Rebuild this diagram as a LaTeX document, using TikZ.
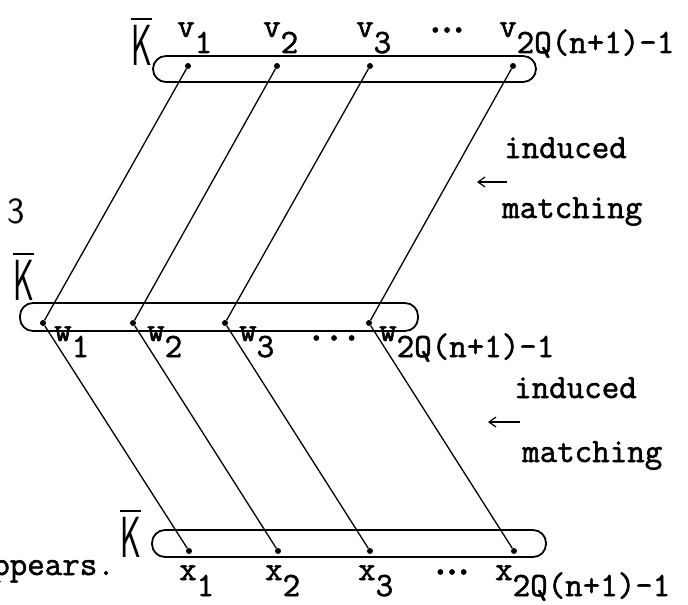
\documentclass[tikz,border=0pt]{standalone}
\usepackage{fontspec}
\usepackage{graphicx}
\setmonofont{Latin Modern Mono}[FakeBold=1.6]
\usetikzlibrary{arrows.meta,positioning}

\newcommand{\Kbar}{\scalebox{0.55}[1]{\vbox{\hrule height 2pt\kern 5pt\hbox{\sffamily K}}}}

\begin{document}
\begin{tikzpicture}[
  x=1pt, y=-1pt,
  clique/.style={
    rectangle,
    draw=black,
    line width=1.8pt,
    rounded corners=13pt,
    inner sep=0pt
  },
  vertex/.style={circle, fill=black, inner sep=0pt, minimum size=6pt},
  lbl/.style={font=\fontsize{34}{40}\selectfont\ttfamily, inner sep=0pt, anchor=base west},
  ellip/.style={font=\fontsize{44}{50}\selectfont\ttfamily, inner sep=0pt, anchor=center},
  cbar/.style={font=\fontsize{58}{60}\selectfont, inner sep=0pt, anchor=base west},
  match/.style={line width=1.3pt, draw=black},
  ptr/.style={line width=1.2pt, -{Straight Barb[length=7pt,width=10pt]}}
]
\useasboundingbox (0,0) rectangle (688,605);

% the three sets
\node[clique, minimum width=383pt, minimum height=26pt] (topset) at (344.5,69) {};
\node[clique, minimum width=398pt, minimum height=28pt] (midset) at (219,317) {};
\node[clique, minimum width=394pt, minimum height=27pt] (botset) at (349,543.5) {};

\node[cbar] (kv) at (131,65) {\Kbar};
\node[cbar] (kw) at (13,300) {\Kbar};
\node[cbar] (kx) at (120,557) {\Kbar};

% vertices
\node[vertex] (v1) at (188,66) {};
\node[vertex] (v2) at (277,66) {};
\node[vertex] (v3) at (370,66) {};
\node[vertex] (vn) at (513,66) {};

\node[vertex] (w1) at (43,323) {};
\node[vertex] (w2) at (133,323) {};
\node[vertex] (w3) at (225,323) {};
\node[vertex] (wn) at (369,323) {};

\node[vertex] (x1) at (189,551) {};
\node[vertex] (x2) at (278,551) {};
\node[vertex] (x3) at (370,551) {};
\node[vertex] (xn) at (514,551) {};

% matchings
\draw[match] (v1) -- (w1);
\draw[match] (v2) -- (w2);
\draw[match] (v3) -- (w3);
\draw[match] (vn) -- (wn);

\draw[match] (w1) -- (x1);
\draw[match] (w2) -- (x2);
\draw[match] (w3) -- (x3);
\draw[match] (wn) -- (xn);

% labels
\node[lbl] (lv1) at (177,37) {v\raisebox{-16pt}{1}};
\node[lbl] (lv2) at (263,37) {v\raisebox{-16pt}{2}};
\node[lbl] (lv3) at (356,37) {v\raisebox{-16pt}{3}};
\node[ellip] (dv) at (447,30) {.\kern-11pt.\kern-11pt.};
\node[lbl] (lvn) at (499,37) {v\raisebox{-16pt}{2Q(n+1)-1}};

\node[lbl] (lw1) at (54,341) {w\raisebox{-16pt}{1}};
\node[lbl] (lw2) at (147,341) {w\raisebox{-16pt}{2}};
\node[lbl] (lw3) at (239,341) {w\raisebox{-16pt}{3}};
\node[ellip] (dw) at (334,338) {.\kern-5pt.\kern-5pt.};
\node[lbl] (lwn) at (379,341) {w\raisebox{-16pt}{2Q(n+1)-1}};

\node[lbl] (lx1) at (179,580) {x\raisebox{-16pt}{1}};
\node[lbl] (lx2) at (265,580) {x\raisebox{-16pt}{2}};
\node[lbl] (lx3) at (358,580) {x\raisebox{-16pt}{3}};
\node[ellip] (dx) at (452,572) {.\kern-11pt.\kern-11pt.};
\node[lbl] (lxn) at (495,580) {x\raisebox{-16pt}{2Q(n+1)-1}};

% notes on the right
\node[lbl] (ind1) at (504,158) {induced};
\node[lbl] (mat1) at (502,218) {matching};
\coordinate (p1a) at (507,182);
\coordinate (p1b) at (477,182);
\draw[ptr] (p1a) -- (p1b);

\node[lbl] (ind2) at (514,398) {induced};
\node[lbl] (mat2) at (522,462) {matching};
\coordinate (p2a) at (520,422);
\coordinate (p2b) at (488,422);
\draw[ptr] (p2a) -- (p2b);

% cut-off page text
\node[lbl, font=\fontsize{37}{40}\selectfont\sffamily] (pg) at (7,223) {3};
\node[lbl, anchor=base east] (cut) at (115,575) {ppears.};

\end{tikzpicture}
\end{document}
